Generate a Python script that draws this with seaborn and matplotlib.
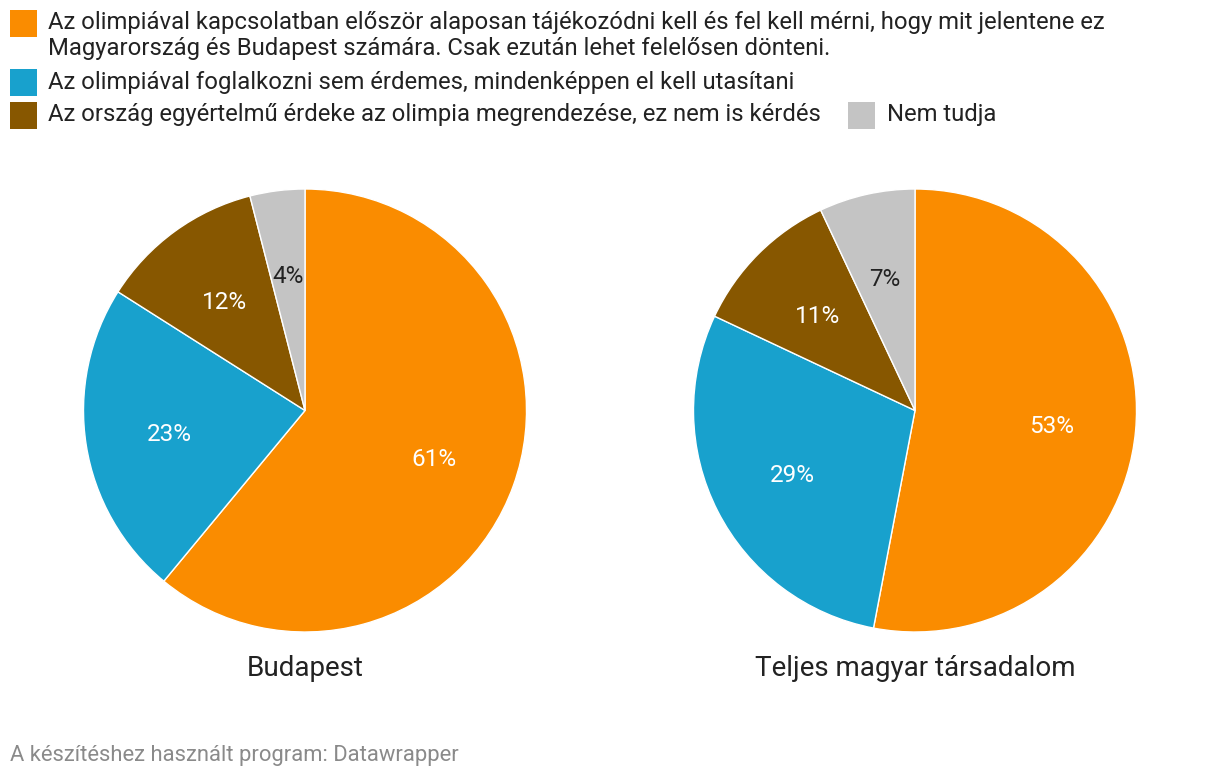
import matplotlib
matplotlib.use("Agg")
import matplotlib.pyplot as plt
import seaborn as sns
from matplotlib.patches import Rectangle

categories = [
    "Az olimpiával kapcsolatban először alaposan tájékozódni kell és fel kell mérni, hogy mit jelentene ez\nMagyarország és Budapest számára. Csak ezután lehet felelősen dönteni.",
    "Az olimpiával foglalkozni sem érdemes, mindenképpen el kell utasítani",
    "Az ország egyértelmű érdeke az olimpia megrendezése, ez nem is kérdés",
    "Nem tudja",
]
budapest = [61, 23, 12, 4]
teljes = [53, 29, 11, 7]
titles = ["Budapest", "Teljes magyar társadalom"]
footer = "A készítéshez használt program: Datawrapper"

sns.set_theme(style="white")
plt.rcParams["font.family"] = ["Roboto", "DejaVu Sans"]
palette = sns.color_palette(["#FA8C00", "#18A1CD", "#875700", "#C4C4C4"])
label_colors = ["white", "white", "white", "#222222"]

W, H = 1220, 780
fig = plt.figure(figsize=(W / 100, H / 100), dpi=100)
fig.patch.set_facecolor("white")

def fx(x):
    return x / W

def fy(y):
    return 1 - y / H

R = 221.5
centers = [(305, 410.5), (915, 410.5)]
for (cx, cy), vals, title in zip(centers, [budapest, teljes], titles):
    ax = fig.add_axes([fx(cx - R), fy(cy + R), 2 * R / W, 2 * R / H])
    wedges, texts, autotexts = ax.pie(
        vals, colors=palette, startangle=90, counterclock=False,
        autopct=lambda p: f"{round(p):d}%", pctdistance=0.62, radius=1,
        wedgeprops=dict(edgecolor="white", linewidth=1),
        textprops=dict(fontsize=17.5),
    )
    for t, c in zip(autotexts, label_colors):
        t.set_color(c)
        x, y = t.get_position()
        t.set_position((x, y - 0.012))
    ax.set_xlim(-1, 1)
    ax.set_ylim(-1, 1)
    ax.set_aspect("auto")
    ax.axis("off")
    fig.text(fx(cx), fy(668), title, ha="center", va="center",
             fontsize=20, color="#222222")

# legend
sq = 27
items = [
    (10, 10, 48, 23, categories[0]),
    (10, 69, 48, 82, categories[1]),
    (10, 102, 48, 115, categories[2]),
    (848, 102, 887, 115, categories[3]),
]
for (sx, sy, tx, ty, txt), col in zip(items, palette):
    fig.add_artist(Rectangle((fx(sx), fy(sy + sq)), sq / W, sq / H,
                             transform=fig.transFigure, facecolor=col,
                             edgecolor="none"))
    for i, line in enumerate(txt.split("\n")):
        fig.text(fx(tx), fy(ty + 26 * i), line, ha="left", va="center",
                 fontsize=17.2, color="#222222")

fig.text(fx(10), fy(755), footer, ha="left", va="center",
         fontsize=15.8, color="#8a8a8a")

fig.savefig("out.png", dpi=100)
